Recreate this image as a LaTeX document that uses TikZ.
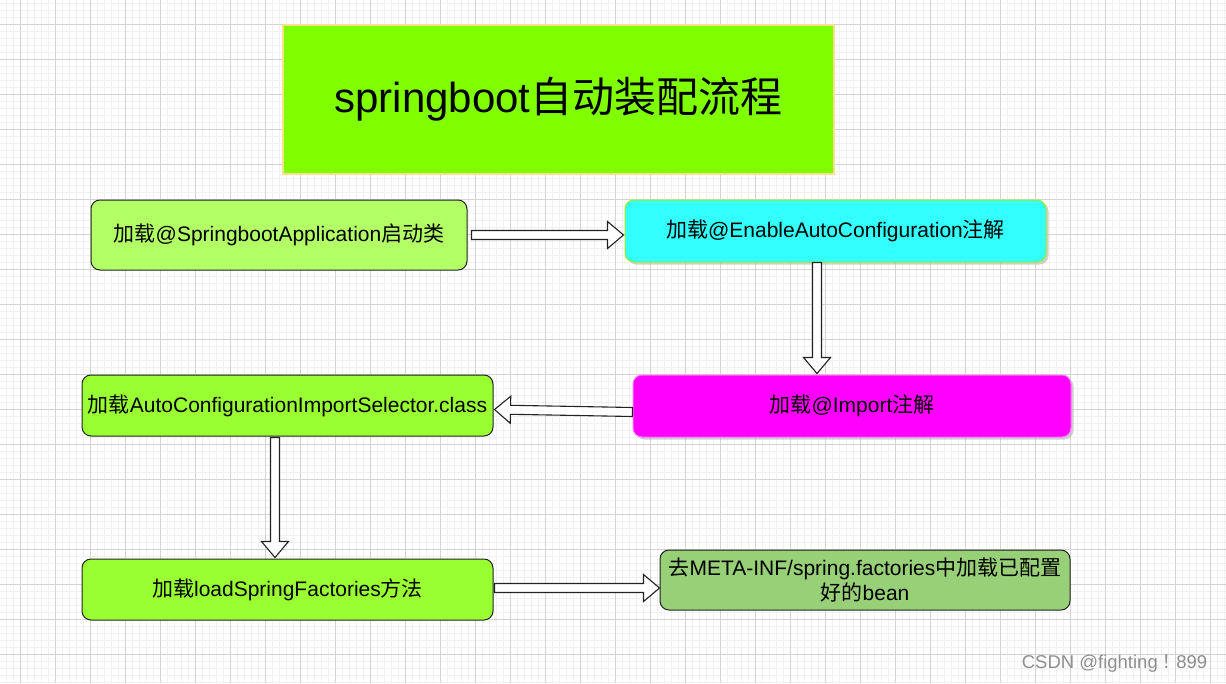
\documentclass[tikz,border=0pt]{standalone}
\usepackage{fontspec}
\setmainfont{Liberation Sans}
\newfontfamily\cjk{Noto Sans CJK SC}
\newfontfamily\cjktc{Noto Sans CJK TC}
\usetikzlibrary{calc,shadows}
\definecolor{gridmajor}{HTML}{D3D3D3}
\definecolor{gridminor}{HTML}{F1F1F1}
\definecolor{titlegreen}{HTML}{80FF00}
\definecolor{titleborder}{HTML}{FFE08A}
\definecolor{boxA}{HTML}{B3FF66}
\definecolor{boxB}{HTML}{99FF33}
\definecolor{cyanbox}{HTML}{33FFFF}
\definecolor{cyanborder}{HTML}{99EE22}
\definecolor{magbox}{HTML}{FF00FF}
\definecolor{magborder}{HTML}{FF77FF}
\definecolor{olivebox}{HTML}{97D077}
\definecolor{edge}{HTML}{222222}
\definecolor{wmark}{HTML}{8E8E8E}
\tikzset{
  stepbox/.style={rounded corners=9pt, draw=edge, line width=1pt, inner sep=0pt,
    font=\fontsize{21}{25}\selectfont, align=center},
  shadowbox/.style={stepbox, drop shadow={shadow xshift=2.5pt, shadow yshift=-2.5pt, fill=black!30, opacity=0.6}},
  blockarr/.style={draw=edge, line width=1.1pt, fill=white, line join=miter},
}
\newcommand\blockarrow[2]{%
  \draw[blockarr] let \p1=#1, \p2=#2,
    \n1={atan2(\y2-\y1,\x2-\x1)}, \n2={veclen(\x2-\x1,\y2-\y1)}, \n3={\n2-16} in
    [shift={(\p1)}, rotate=\n1]
    (0,-4.5) -- (\n3,-4.5) -- (\n3,-13.5) -- (\n2,0) -- (\n3,13.5) -- (\n3,4.5) -- (0,4.5) -- cycle;}
\begin{document}
\begin{tikzpicture}[x=1pt,y=-1pt]
\useasboundingbox (0,0) rectangle (1226,683);
\fill[white] (0,0) rectangle (1226,683);
% grid
\foreach \i in {0,...,174} \draw[gridminor, line width=0.8pt] (6.5+7*\i,0) -- (6.5+7*\i,683);
\foreach \i in {0,...,97} \draw[gridminor, line width=0.8pt] (0,3.5+7*\i) -- (1226,3.5+7*\i);
\foreach \i in {0,...,34} \draw[gridmajor, line width=0.9pt] (20.5+35*\i,0) -- (20.5+35*\i,683);
\foreach \i in {0,...,18} \draw[gridmajor, line width=0.9pt] (0,24.5+35*\i) -- (1226,24.5+35*\i);

% title
\node[fill=titlegreen, draw=titleborder, line width=1.2pt, minimum width=551pt, minimum height=149pt,
  inner sep=0pt, font=\fontsize{42}{48}\selectfont] (title) at (558.5,99.5)
  {springboot{\cjk 自动装配流程}};

% boxes
\node[stepbox, fill=boxA, minimum width=376pt, minimum height=70pt] (b1) at (279,235)
  {{\cjk 加载}@SpringbootApplication{\cjk 启动类}};
\node[shadowbox, fill=cyanbox, draw=cyanborder, minimum width=421pt, minimum height=62pt] (b2) at (835.5,231)
  {{\cjk 加载}@EnableAutoConfiguration{\cjk 注解}};
\node[shadowbox, fill=magbox, draw=magborder, minimum width=438pt, minimum height=62pt] (b3) at (852,406)
  {{\cjk 加载}@Import{\cjk 注解}};
\node[stepbox, fill=boxB, minimum width=411pt, minimum height=61pt] (b4) at (287.5,405.5)
  {{\cjk 加载}AutoConfigurationImportSelector.class};
\node[stepbox, fill=boxB, minimum width=411pt, minimum height=61pt] (b5) at (287.5,589.5)
  {{\cjk 加载}loadSpringFactories{\cjk 方法}};
\node[stepbox, fill=olivebox, minimum width=410pt, minimum height=60pt] (b6) at (865,580)
  {{\cjk 去}META-INF/spring.factories{\cjk 中加载已配置}\\{\cjk 好的}bean};

% block arrows
\blockarrow{($(b1.east)+(4,0)$)}{($(b2.west)+(-1,4)$)}
\blockarrow{($(b2.south)+(-18.5,0)$)}{($(b3.north)+(-35,-1)$)}
\blockarrow{($(b3.west)+(0,6)$)}{($(b4.east)+(1,4)$)}
\blockarrow{($(b4.south)+(-12.5,1)$)}{($(b5.north)+(-12.5,-1)$)}
\blockarrow{($(b5.east)+(1,-1.5)$)}{($(b6.west)+(0,8)$)}

% watermark
\node[text=wmark, font=\fontsize{18.5}{22}\selectfont, inner sep=0pt] (wm) at (1114.5,663)
  {CSDN @fighting{\cjktc ！}899};
\end{tikzpicture}
\end{document}
